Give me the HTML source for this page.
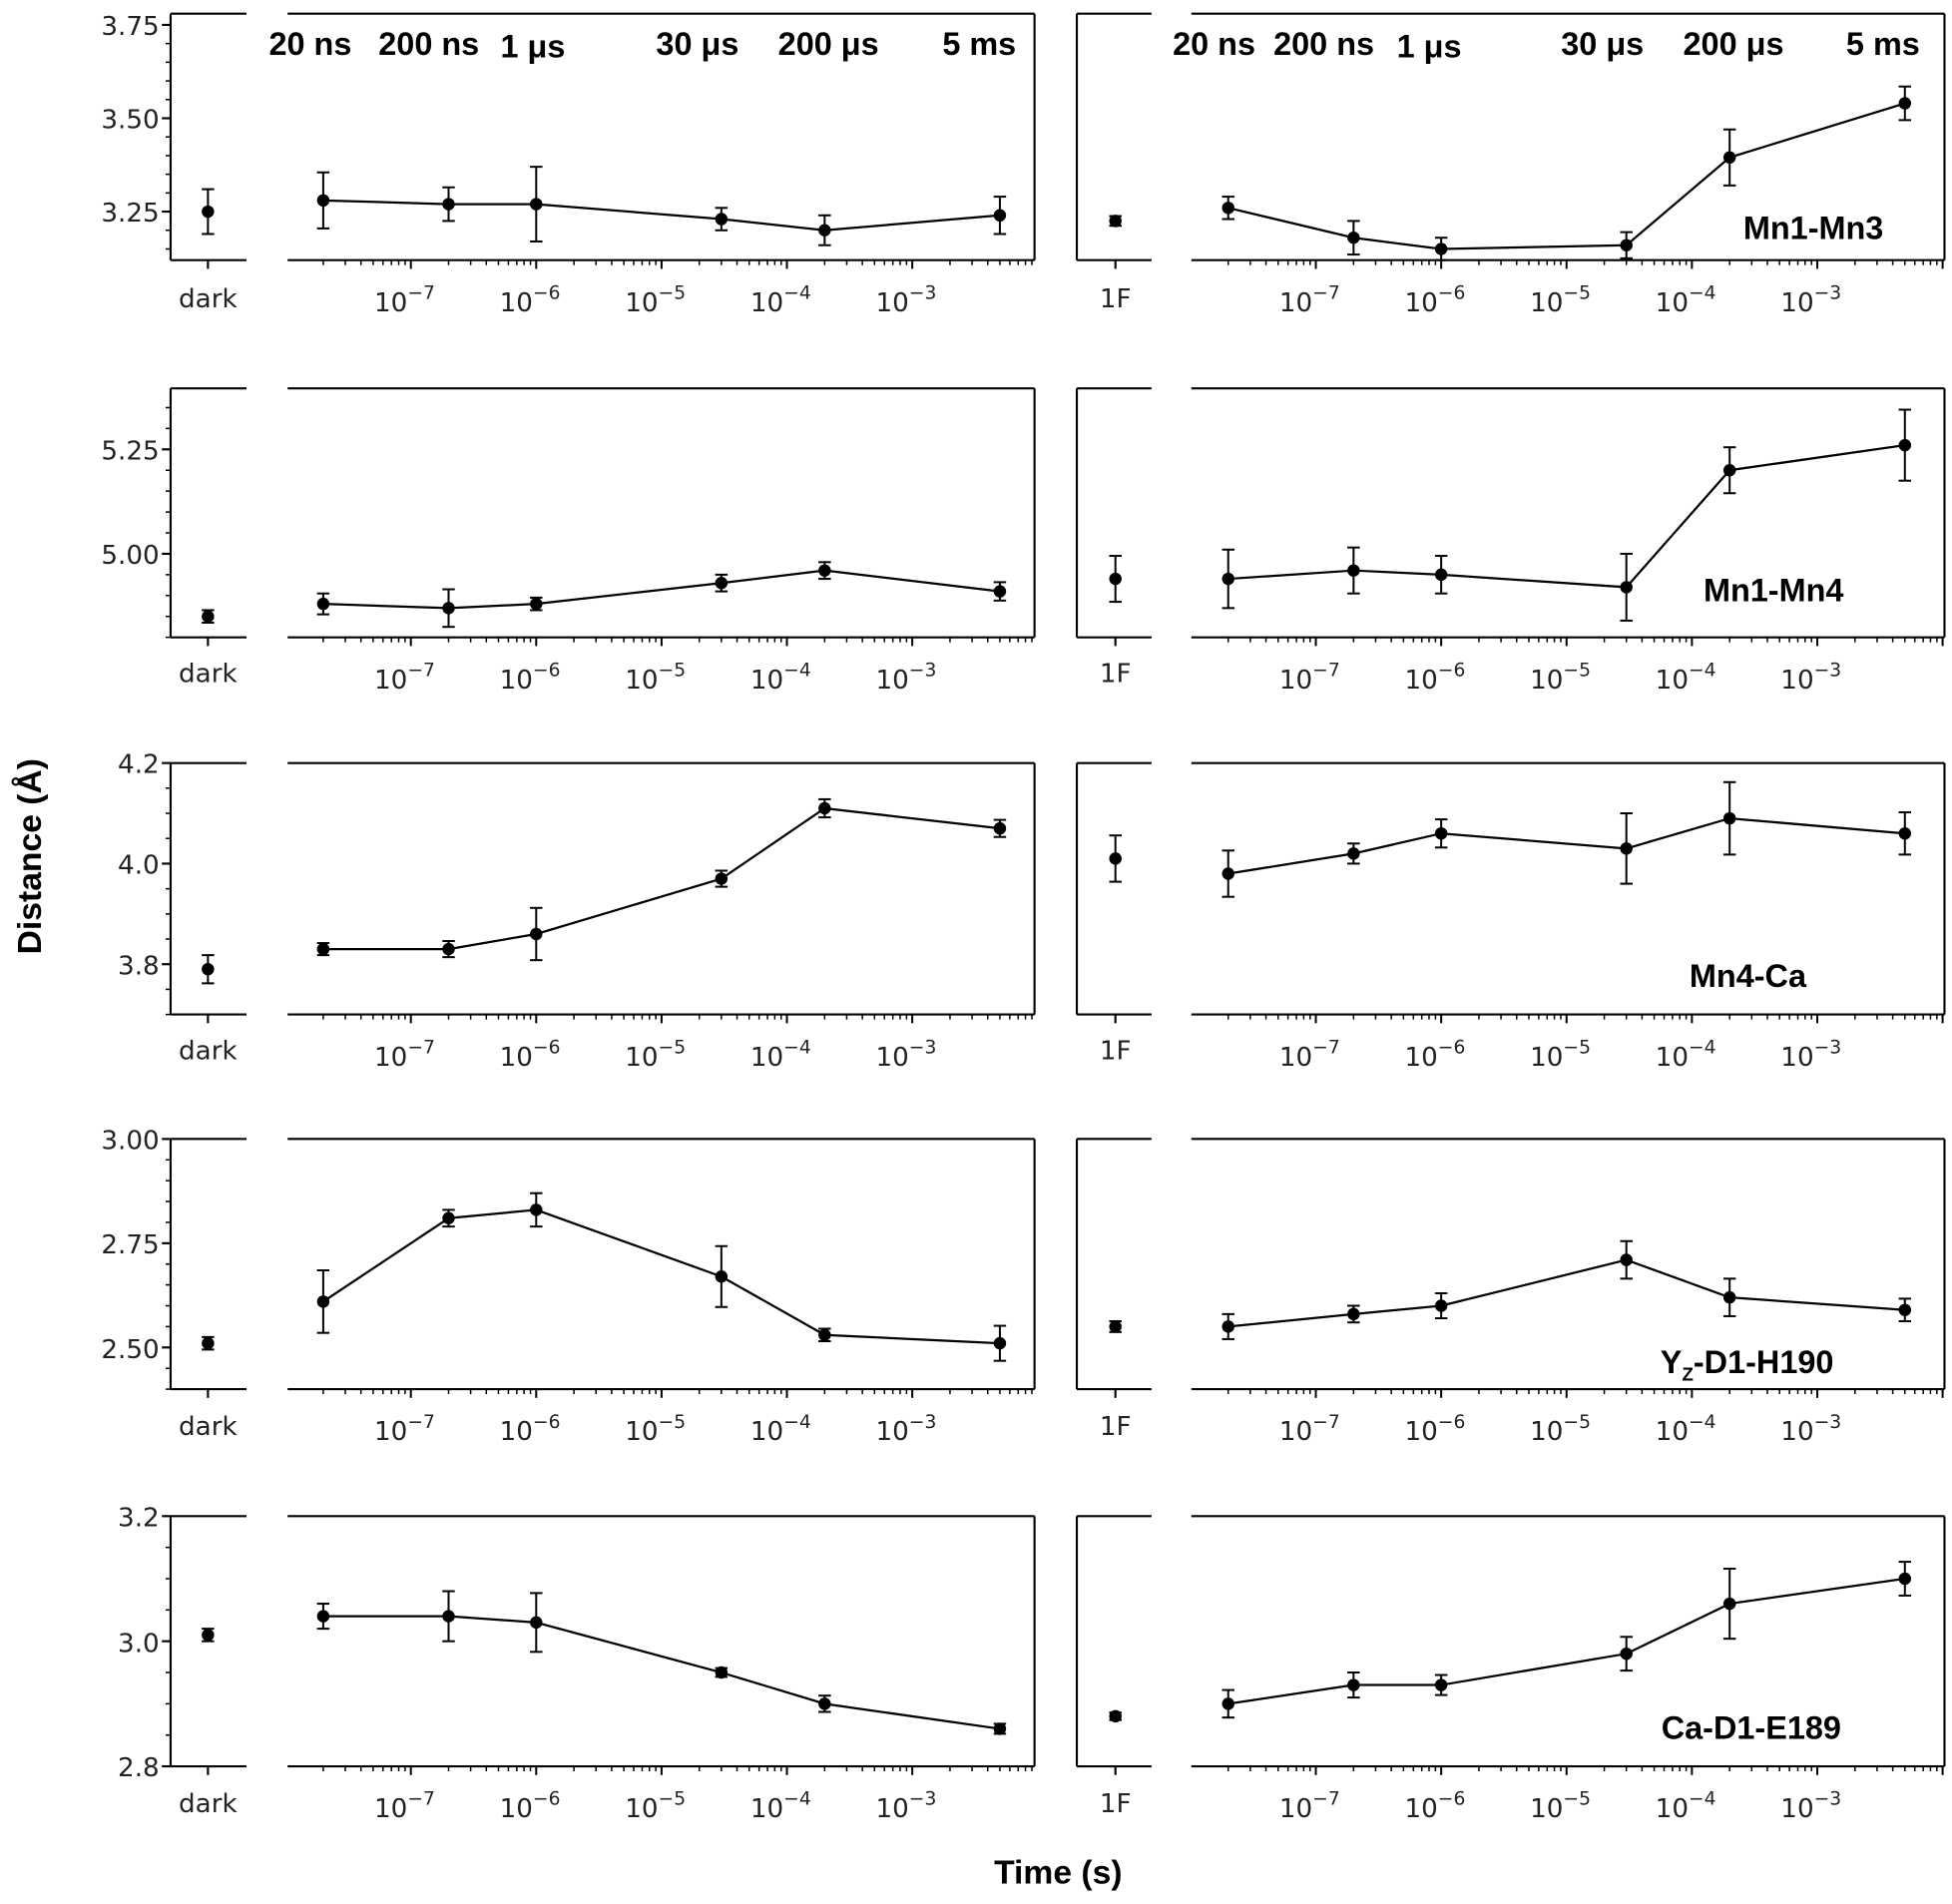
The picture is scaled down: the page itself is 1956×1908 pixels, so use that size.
<!DOCTYPE html>
<html><head><meta charset="utf-8"><style>
html,body{margin:0;padding:0;background:#fff;}
svg{display:block;}
.t{font-family:"DejaVu Sans","Liberation Sans",sans-serif;font-size:21px;fill:#222;}
.b{font-family:"Liberation Sans",sans-serif;font-weight:bold;fill:#000;}
</style></head><body>
<svg id="s" width="1956" height="1908" viewBox="0 0 1568 1529.6" xmlns="http://www.w3.org/2000/svg">
<g id="g" stroke="#000" fill="none" stroke-width="1.7"></g>
<g class="t" text-anchor="end">
<text x="128" y="28">3.75</text><text x="128" y="103">3.50</text><text x="128" y="178">3.25</text>
<text x="128" y="369">5.25</text><text x="128" y="453">5.00</text>
<text x="128" y="621">4.2</text><text x="128" y="702">4.0</text><text x="128" y="783">3.8</text>
<text x="128" y="923">3.00</text><text x="128" y="1007">2.75</text><text x="128" y="1091">2.50</text>
<text x="128" y="1226">3.2</text><text x="128" y="1327">3.0</text><text x="128" y="1427">2.8</text>
</g>
<g class="t" text-anchor="middle">
<text x="167" y="247">dark</text><text x="896" y="247">1F</text>
<text x="167" y="548">dark</text><text x="896" y="548">1F</text>
<text x="167" y="851">dark</text><text x="896" y="851">1F</text>
<text x="167" y="1153">dark</text><text x="896" y="1153">1F</text>
<text x="167" y="1456">dark</text><text x="896" y="1456">1F</text>
</g>
<g id="xl" class="t" text-anchor="middle"></g>
<g class="b" font-size="26">
<text x="216" y="44">20 ns</text><text x="304" y="44">200 ns</text><text x="402" y="46">1 μs</text>
<text x="527" y="44">30 μs</text><text x="625" y="44">200 μs</text><text x="757" y="44">5 ms</text>
<text x="942" y="44">20 ns</text><text x="1023" y="44">200 ns</text><text x="1122" y="46">1 μs</text>
<text x="1254" y="44">30 μs</text><text x="1352" y="44">200 μs</text><text x="1483" y="44">5 ms</text>
</g>
<g class="b" font-size="26" text-anchor="end">
<text x="1513" y="192">Mn1-Mn3</text>
<text x="1481" y="483">Mn1-Mn4</text>
<text x="1451" y="793">Mn4-Ca</text>
<text x="1473" y="1103">Y<tspan font-size="15" dy="6">Z</tspan><tspan dy="-6">-D1-H190</tspan></text>
<text x="1479" y="1397">Ca-D1-E189</text>
</g>
<text class="b" font-size="27" x="850" y="1513" text-anchor="middle">Time (s)</text>
<text class="b" font-size="27" transform="translate(33,688) rotate(-90)" text-anchor="middle">Distance (Å)</text>
</svg>
<script>
const g=document.getElementById('g'),xl=document.getElementById('xl');
const NS='http://www.w3.org/2000/svg';
function el(t,a,p){const e=document.createElementNS(NS,t);for(const k in a)e.setAttribute(k,a[k]);(p||g).appendChild(e);return e;}
function L(x1,y1,x2,y2,w){el('line',{x1,y1,x2,y2,'stroke-width':w||1.7});}
const rows=[
{top:11,bot:209,lo:3.12,hi:3.78,maj:[3.25,3.5,3.75],min:0.05,
 L:[[3.25,0.06],[3.28,0.075],[3.27,0.045],[3.27,0.1],[3.23,0.03],[3.20,0.04],[3.24,0.05]],
 R:[[3.225,0.013],[3.26,0.03],[3.18,0.045],[3.15,0.03],[3.16,0.035],[3.395,0.075],[3.54,0.045]]},
{top:312,bot:512,lo:4.80,hi:5.396,maj:[5.0,5.25],min:0.05,
 L:[[4.85,0.015],[4.88,0.025],[4.87,0.045],[4.88,0.015],[4.93,0.02],[4.96,0.02],[4.91,0.022]],
 R:[[4.94,0.055],[4.94,0.07],[4.96,0.055],[4.95,0.045],[4.92,0.08],[5.20,0.055],[5.26,0.085]]},
{top:613,bot:815,lo:3.7,hi:4.2,maj:[3.8,4.0,4.2],min:0.05,
 L:[[3.79,0.028],[3.83,0.012],[3.83,0.016],[3.86,0.052],[3.97,0.016],[4.11,0.018],[4.07,0.017]],
 R:[[4.01,0.046],[3.98,0.046],[4.02,0.02],[4.06,0.028],[4.03,0.07],[4.09,0.072],[4.06,0.042]]},
{top:915,bot:1116,lo:2.40,hi:3.0,maj:[2.5,2.75,3.0],min:0.05,
 L:[[2.51,0.015],[2.61,0.075],[2.81,0.02],[2.83,0.04],[2.67,0.073],[2.53,0.015],[2.51,0.042]],
 R:[[2.55,0.013],[2.55,0.03],[2.58,0.02],[2.60,0.03],[2.71,0.045],[2.62,0.045],[2.59,0.027]]},
{top:1218,bot:1419,lo:2.8,hi:3.2,maj:[2.8,3.0,3.2],min:0.05,
 L:[[3.01,0.01],[3.04,0.02],[3.04,0.04],[3.03,0.047],[2.95,0.007],[2.90,0.013],[2.86,0.008]],
 R:[[2.88,0.006],[2.90,0.022],[2.93,0.02],[2.93,0.016],[2.98,0.027],[3.06,0.056],[3.10,0.027]]}
];
const ts=[2e-8,2e-7,1e-6,3e-5,2e-4,5e-3];
function lx(t,off){return off+100.7*(Math.log10(t)+7);}
function pt(x,y,e,yf){const y1=yf(e[0]-e[1]),y2=yf(e[0]+e[1]);L(x,y1,x,y2,1.6);L(x-5,y1,x+5,y1,1.6);L(x-5,y2,x+5,y2,1.6);el('circle',{cx:x,cy:y,r:5,fill:'#000',stroke:'none'});}
rows.forEach(r=>{
 const yf=v=>r.bot-(v-r.lo)/(r.hi-r.lo)*(r.bot-r.top);
 L(137,r.top,137,r.bot);L(137,r.top,198,r.top);L(137,r.bot,198,r.bot);
 r.maj.forEach(v=>L(130,yf(v),137,yf(v)));
 for(let v=Math.ceil(r.lo/r.min)*r.min;v<=r.hi+1e-9;v+=r.min){L(133,yf(v),137,yf(v),1.2);}
 L(167,r.bot,167,r.bot+7);
 L(865,r.top,865,r.bot);L(865,r.top,925,r.top);L(865,r.bot,925,r.bot);L(896,r.bot,896,r.bot+7);
 [[231,831,330],[957,1562,1057]].forEach(([a,b,off])=>{
  L(a,r.top,b,r.top);L(a,r.bot,b,r.bot);L(b,r.top,b,r.bot);
  for(let d=-9;d<=-1;d++)for(let m=1;m<10;m++){const x=lx(m*Math.pow(10,d),off);if(x<a||x>b)continue;L(x,r.bot,x,r.bot+(m==1?7:4),m==1?1.6:1.2);}
  [-7,-6,-5,-4,-3].forEach(d=>{const t=el('text',{x:lx(Math.pow(10,d),off)-5,y:r.bot+41},xl);t.textContent='10';const s=el('tspan',{dy:-10,'font-size':15},t);s.textContent='−'+(-d);});
 });
 const offs=[[167,330,r.L],[896,1057,r.R]];
 offs.forEach(([dx,off,D])=>{
  pt(dx,yf(D[0][0]),D[0],yf);
  const P=ts.map((t,i)=>[lx(t,off),yf(D[i+1][0])]);
  el('polyline',{points:P.map(p=>p.join(',')).join(' '),'stroke-width':1.8});
  P.forEach((p,i)=>pt(p[0],p[1],D[i+1],yf));
 });
});
</script>
</body></html>
